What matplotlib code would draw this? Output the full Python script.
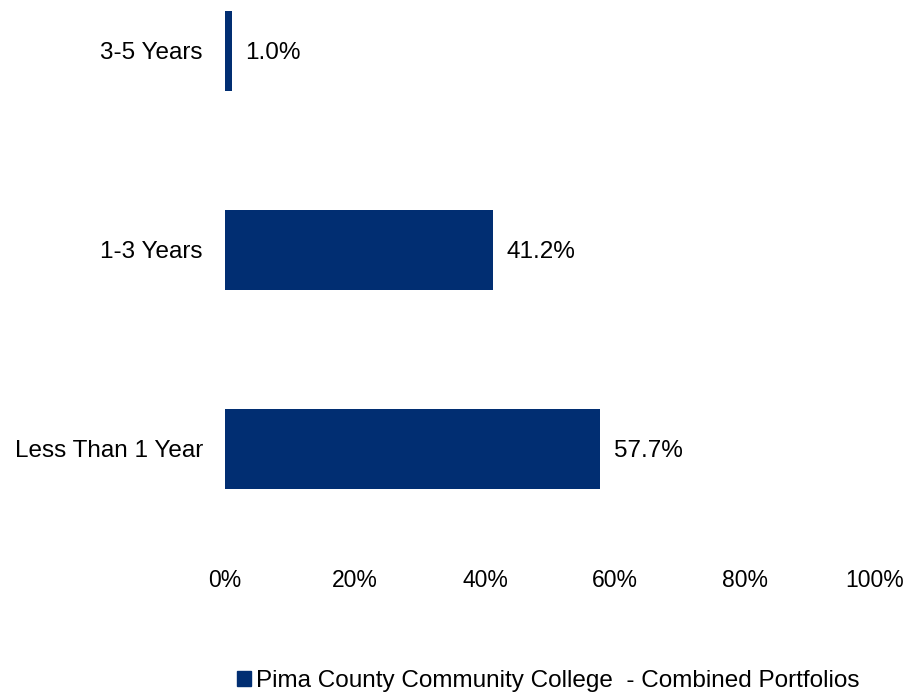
"""maturity distribution bar chart"""

import matplotlib
matplotlib.use("Agg")
import matplotlib.pyplot as plt
from matplotlib.patches import Patch

# データ
categories = ["Less Than 1 Year", "1-3 Years", "3-5 Years"]
values = [57.7, 41.2, 1.0]
xticks = [0, 20, 40, 60, 80, 100]
series_name = "Pima County Community College  - Combined Portfolios"

navy = "#012e72"
plt.rcParams["font.family"] = ["Liberation Sans", "DejaVu Sans"]

fig = plt.figure(figsize=(9.06, 6.92), dpi=100)
ax = fig.add_axes([225 / 906, 1 - 555 / 692, 650 / 906, 555 / 692])

ypos = list(range(len(categories)))
ax.barh(ypos, values, height=0.4, color=navy)

# 値ラベル
for y, v in zip(ypos, values):
    ax.annotate(f"{v:.1f}%", (v, y), xytext=(10, -1.5), textcoords="offset points",
                va="center", ha="left", fontsize=17.5)

ax.set_xlim(0, 100)
ax.set_ylim(-0.533, 2.256)
ax.set_yticks(ypos)
ax.set_yticklabels(categories, fontsize=17.5)
ax.set_xticks(xticks)
ax.set_xticklabels([f"{t}%" for t in xticks], fontsize=16.5)
ax.tick_params(axis="y", length=0, pad=16)
ax.tick_params(axis="x", length=0, pad=10)
for s in ax.spines.values():
    s.set_visible(False)

# 凡例
fig.legend(handles=[Patch(color=navy, label=series_name)], loc="center",
           bbox_to_anchor=(0.605, 1 - 681 / 692), frameon=False,
           handlelength=0.6, handleheight=0.6, handletextpad=0.2,
           prop={"size": 17.5})

fig.savefig("out.png", dpi=100)
